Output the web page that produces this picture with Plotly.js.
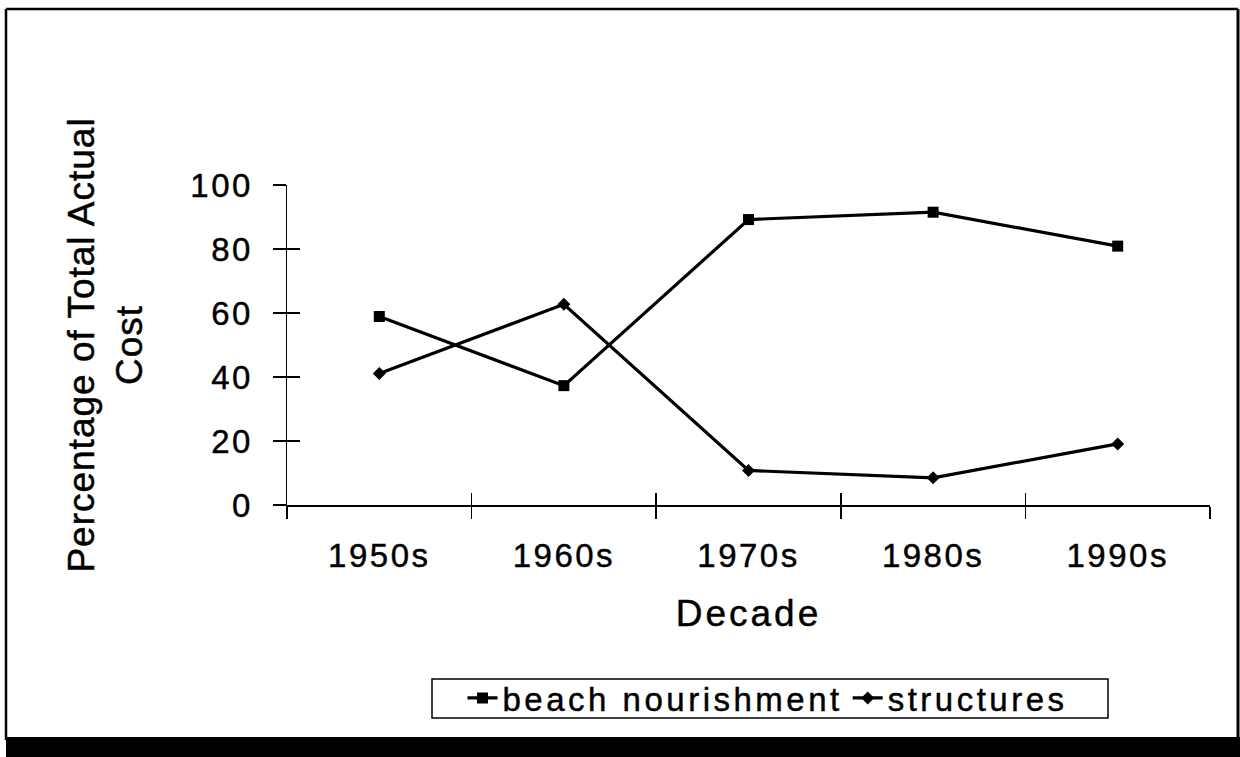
<!DOCTYPE html>
<html>
<head>
<meta charset="utf-8">
<script src="https://cdn.plot.ly/plotly-3.0.1.min.js"></script>
<style>
  html, body { margin: 0; padding: 0; background: #fff; }
  #chart { width: 1240px; height: 757px; }
  .main-svg text { stroke: #000; stroke-width: 0.45px; }
  .xtick text, .ytick text { letter-spacing: 2.5px; }
  .g-xtitle text { letter-spacing: 3px; }
  .g-ytitle text { letter-spacing: 1px; }
  .legendtext { letter-spacing: 3.5px; }
</style>
</head>
<body>
<div id="chart"></div>
<script>
const decades = ["1950s", "1960s", "1970s", "1980s", "1990s"];
const beachNourishment = [58.9, 37.3, 89.2, 91.5, 80.9];
const structures = [41.1, 62.7, 10.8, 8.5, 19.1];
const yTickVals = [0, 20, 40, 60, 80, 100];
const seriesNames = ["beach nourishment", "structures"];

const FONT = "Liberation Sans, Arial, Helvetica, sans-serif";

const traces = [
  {
    x: decades, y: beachNourishment, name: seriesNames[0],
    type: "scatter", mode: "lines+markers",
    line: { color: "#000", width: 3.2 },
    marker: { symbol: "square", size: 11, color: "#000" }
  },
  {
    x: decades, y: structures, name: seriesNames[1],
    type: "scatter", mode: "lines+markers",
    line: { color: "#000", width: 3.2 },
    marker: { symbol: "diamond", size: 10, color: "#000" }
  },
  {
    x: decades, y: beachNourishment, xaxis: "x2", yaxis: "y2",
    type: "scatter", mode: "lines", opacity: 0, showlegend: false,
    hoverinfo: "skip", line: { width: 0 }
  }
];

const W = 923, H = 320, L = 287, T = 185;
const px = v => (v - L) / W;
const py = v => (T + H - v) / H;

const layout = {
  width: 1240, height: 757,
  margin: { l: 287, r: 30, t: 185, b: 252 },
  paper_bgcolor: "#fff", plot_bgcolor: "#fff",
  font: { family: FONT, color: "#000", size: 33 },
  showlegend: true,
  xaxis: {
    type: "category", categoryorder: "array", categoryarray: decades,
    range: [-0.5, 4.5], tickson: "boundaries",
    ticks: "outside", ticklen: 12, tickwidth: 1.5, tickcolor: "#000",
    showline: true, linecolor: "#000", linewidth: 1.5,
    showgrid: false, zeroline: false,
    tickfont: { family: FONT, size: 33 },
    ticklabelstandoff: 21,
    title: { text: "Decade", font: { family: FONT, size: 37 }, standoff: 27 }
  },
  xaxis2: {
    type: "category", categoryorder: "array", categoryarray: decades,
    range: [-0.5, 4.5], tickson: "boundaries", overlaying: "x", anchor: "y",
    ticks: "inside", ticklen: 12, tickwidth: 1.5, tickcolor: "#000",
    showline: false, showgrid: false, zeroline: false, showticklabels: false
  },
  yaxis: {
    range: [0, 100], tickvals: yTickVals, ticktext: yTickVals.map(String),
    ticks: "outside", ticklen: 13, tickwidth: 1.5, tickcolor: "#000",
    showline: true, linecolor: "#000", linewidth: 1.5,
    showgrid: false, zeroline: false,
    tickfont: { family: FONT, size: 33 },
    ticklabelstandoff: 13,
    title: { text: "Percentage of Total Actual<br>Cost", font: { family: FONT, size: 37 }, standoff: 36 }
  },
  yaxis2: {
    range: [0, 100], tickvals: yTickVals, overlaying: "y", anchor: "x", side: "left",
    ticks: "inside", ticklen: 13, tickwidth: 1.5, tickcolor: "#000",
    showline: false, showgrid: false, zeroline: false, showticklabels: false
  },
  legend: {
    orientation: "h", x: px(768), xanchor: "center", y: py(698), yanchor: "middle",
    borderwidth: 0, bgcolor: "rgba(0,0,0,0)",
    font: { family: FONT, size: 33 }, itemwidth: 30, tracegroupgap: 0
  },
  shapes: [
    { type: "line", xref: "paper", yref: "paper", x0: px(6), x1: px(6), y0: py(9), y1: py(740), line: { color: "#000", width: 2.5 } },
    { type: "line", xref: "paper", yref: "paper", x0: px(6), x1: px(1238), y0: py(9), y1: py(9), line: { color: "#000", width: 2.5 } },
    { type: "line", xref: "paper", yref: "paper", x0: px(1238), x1: px(1238), y0: py(9), y1: py(740), line: { color: "#000", width: 3 } },
    { type: "rect", xref: "paper", yref: "paper", x0: px(6), x1: px(1242), y0: py(737), y1: py(760), fillcolor: "#000", line: { width: 0 } },
    { type: "rect", xref: "paper", yref: "paper", x0: px(432), x1: px(1108), y0: py(679), y1: py(718), line: { color: "#000", width: 1.5 } }
  ]
};

Plotly.newPlot("chart", traces, layout, { displayModeBar: false, staticPlot: true });
</script>
</body>
</html>
